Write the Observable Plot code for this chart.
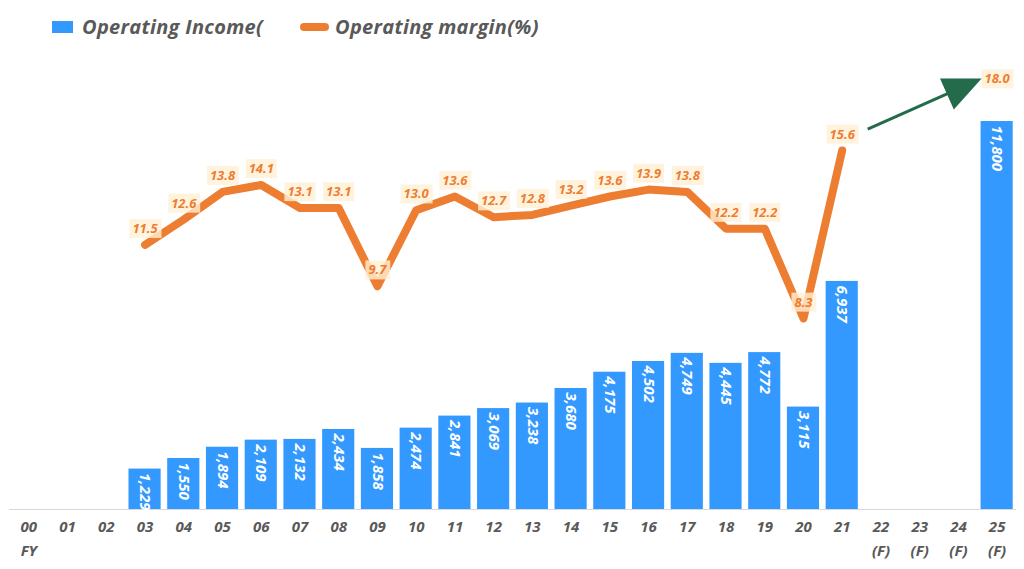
<!DOCTYPE html>
<html><head><meta charset="utf-8">
<script src="https://cdn.jsdelivr.net/npm/d3@7"></script>
<script src="https://cdn.jsdelivr.net/npm/@observablehq/plot@0.6"></script>
<style>
body{margin:0;background:#fff;font-family:"Open Sans",Lato,sans-serif;}
#legend{position:relative;height:50px;width:1024px;}
.sw{position:absolute}
.lt{position:absolute;top:13px;line-height:28px;font-size:20px;letter-spacing:0.3px;font-weight:700;font-style:italic;color:#595959;white-space:nowrap}
</style></head><body>
<div id="legend">
 <div class="sw" style="left:52px;top:21px;width:21px;height:12px;background:#3399FF"></div>
 <div class="lt" style="left:82px">Operating Income(</div>
 <div class="sw" style="left:300px;top:23px;width:29px;height:8px;border-radius:4px;background:#ED7D31"></div>
 <div class="lt" style="left:335px">Operating margin(%)</div>
</div>
<div id="chart"></div>
<script>
const years = ["00","01","02","03","04","05","06","07","08","09","10","11","12","13","14","15","16","17","18","19","20","21","22","23","24","25"];
const subLabels = ["FY","","","","","","","","","","","","","","","","","","","","","","(F)","(F)","(F)","(F)"];
const income = [null,null,null,1229,1550,1894,2109,2132,2434,1858,2474,2841,3069,3238,3680,4175,4502,4749,4445,4772,3115,6937,null,null,null,11800];
const margin = [null,null,null,11.5,12.6,13.8,14.1,13.1,13.1,9.7,13.0,13.6,12.7,12.8,13.2,13.6,13.9,13.8,12.2,12.2,8.3,15.6,null,null,null,18.0];
// secondary axis (0–20 %) shares the frame with primary axis (0–14,000)
const marginScale = 700;
const arrowFrom = {year: "21", margin: 16.5};
const arrowTo = {year: "25", margin: 18.7};

const rows = years.map((y, i) => ({year: y, sub: subLabels[i], income: income[i], margin: margin[i], forecast: subLabels[i] === "(F)"}));
const incomeRows = rows.filter(d => d.income != null);
const marginRows = rows.filter(d => d.margin != null);
const lineRows = marginRows.filter(d => !d.forecast);

const BLUE = "#3399FF", ORANGE = "#ED7D31", GREEN = "#236B4B", GRAY = "#595959";
const FONT = "'Open Sans', Lato, sans-serif";

function arrowMark(index, scales) {
  const bw = scales.x.bandwidth ? scales.x.bandwidth() / 2 : 0;
  const x1 = scales.x(arrowFrom.year) + bw + 26, y1 = scales.y(arrowFrom.margin * marginScale);
  const x2 = scales.x(arrowTo.year) + bw - 15, y2 = scales.y(arrowTo.margin * marginScale);
  const dx = x2 - x1, dy = y2 - y1, L = Math.hypot(dx, dy);
  const ux = dx / L, uy = dy / L, nx = -uy, ny = ux;
  const hl = 38, hw = 17;
  const bx = x2 - hl * ux, by = y2 - hl * uy;
  const g = document.createElementNS("http://www.w3.org/2000/svg", "g");
  const line = document.createElementNS("http://www.w3.org/2000/svg", "line");
  line.setAttribute("x1", x1); line.setAttribute("y1", y1);
  line.setAttribute("x2", bx + ux * 2); line.setAttribute("y2", by + uy * 2);
  line.setAttribute("stroke", GREEN); line.setAttribute("stroke-width", 3);
  const head = document.createElementNS("http://www.w3.org/2000/svg", "polygon");
  head.setAttribute("points", `${x2},${y2} ${bx + hw * nx},${by + hw * ny} ${bx - hw * nx},${by - hw * ny}`);
  head.setAttribute("fill", GREEN);
  g.append(line, head);
  return g;
}

const svg = Plot.plot({
  width: 1024,
  height: 519,
  marginLeft: 9,
  marginRight: 8,
  marginTop: 0,
  marginBottom: 60,
  style: {fontFamily: FONT, background: "#fff"},
  x: {type: "band", domain: years, paddingInner: 0.17, paddingOuter: 0.085, round: false, axis: null},
  y: {domain: [0, 13960], axis: null},
  marks: [
    Plot.barY(incomeRows, {x: "year", y: "income", fill: BLUE}),
    Plot.ruleY([0], {stroke: "#D9D9D9", strokeWidth: 1}),
    Plot.text(incomeRows, {x: "year", y: "income", text: d => d3.format(",")(d.income), rotate: 90, textAnchor: "start", dy: 4, fill: "white", fontSize: 15, fontWeight: "bold", fontStyle: "italic"}),
    Plot.line(lineRows, {x: "year", y: d => d.margin * marginScale, stroke: ORANGE, strokeWidth: 8, strokeLinecap: "round", strokeLinejoin: "round"}),
    Plot.text(marginRows, {x: "year", y: d => d.margin * marginScale, text: d => d.margin.toFixed(1), dy: -16, fill: ORANGE, fontSize: 13, fontWeight: "bold", fontStyle: "italic"}),
    arrowMark,
    Plot.text(rows, {x: "year", y: () => 0, text: "year", dy: 18, fill: GRAY, fontSize: 15, fontWeight: "bold", fontStyle: "italic"}),
    Plot.text(rows.filter(d => d.sub), {x: "year", y: () => 0, text: "sub", dy: 42, fill: GRAY, fontSize: 15, fontWeight: "bold", fontStyle: "italic"})
  ]
});
document.getElementById("chart").append(svg);
svg.querySelectorAll('g[aria-label="text"]').forEach(g => {
  if ((g.getAttribute("fill") || "").toLowerCase() !== ORANGE.toLowerCase()) return;
  g.querySelectorAll("text").forEach(t => {
    const b = t.getBBox();
    const r = document.createElementNS("http://www.w3.org/2000/svg", "rect");
    r.setAttribute("x", b.x - 3); r.setAttribute("y", b.y);
    r.setAttribute("width", b.width + 6); r.setAttribute("height", b.height + 1);
    const tr = t.getAttribute("transform");
    if (tr) r.setAttribute("transform", tr);
    r.setAttribute("fill", "#FFF0D4"); r.setAttribute("fill-opacity", 0.8);
    r.setAttribute("stroke", "none");
    t.parentNode.insertBefore(r, t);
  });
});
</script>
</body></html>
